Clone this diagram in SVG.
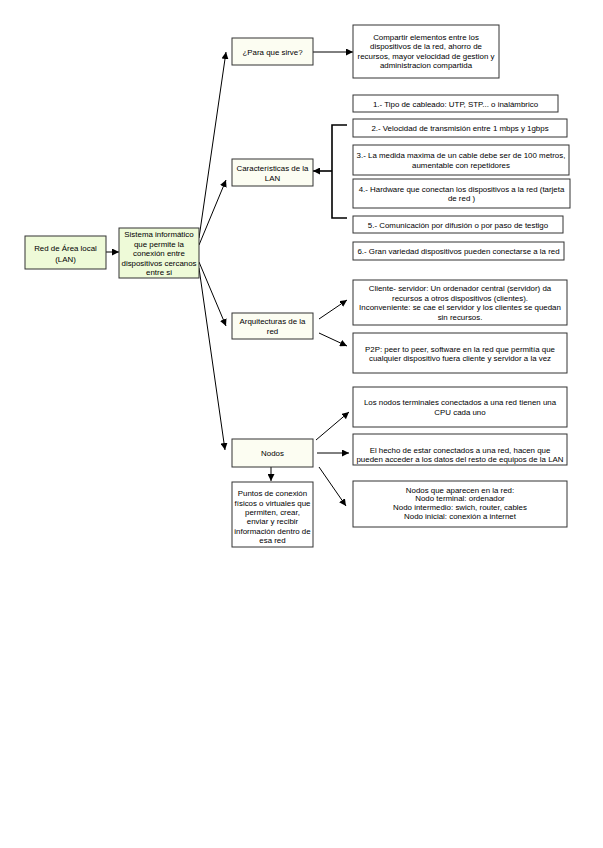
<svg xmlns="http://www.w3.org/2000/svg" width="603" height="848" viewBox="0 0 603 848">
<style>
text{font-family:"Liberation Sans",Arial,sans-serif;font-size:7.9px;fill:#000;text-anchor:middle}
.g{fill:#eefad8;stroke:#333;stroke-width:1}
.p{fill:#fcfdf2;stroke:#333;stroke-width:1}
.w{fill:#fff;stroke:#333;stroke-width:1}
.c{stroke:#000;stroke-width:1;fill:none}
</style>
<defs>
<marker id="a" viewBox="0 0 10 10" refX="10" refY="5" markerWidth="7" markerHeight="7" orient="auto" markerUnits="userSpaceOnUse">
<path d="M0,0 L10,5 L0,10 z" fill="#000"/>
</marker>
</defs>
<rect width="603" height="848" fill="#fff"/>
<g id="connectors">
<line class="c" x1="106" y1="252" x2="119" y2="252" marker-end="url(#a)"/>
<line class="c" x1="199" y1="238" x2="226" y2="52" marker-end="url(#a)"/>
<line class="c" x1="199" y1="245" x2="226" y2="180" marker-end="url(#a)"/>
<line class="c" x1="199" y1="262" x2="226" y2="326" marker-end="url(#a)"/>
<line class="c" x1="199" y1="268" x2="225" y2="450" marker-end="url(#a)"/>
<line class="c" x1="313" y1="52" x2="353" y2="52" marker-end="url(#a)"/>
<path d="M347,125 H332 V218 H347" fill="none" stroke="#000" stroke-width="1.6"/>
<line x1="332" y1="171" x2="313" y2="171" stroke="#000" stroke-width="1.6" marker-end="url(#a)"/>
<line class="c" x1="319" y1="319" x2="347" y2="300" marker-end="url(#a)"/>
<line class="c" x1="319" y1="333" x2="347" y2="346" marker-end="url(#a)"/>
<line class="c" x1="316" y1="440" x2="349" y2="412" marker-end="url(#a)"/>
<line class="c" x1="317" y1="453" x2="349" y2="453" marker-end="url(#a)"/>
<line class="c" x1="319" y1="467" x2="346" y2="506" marker-end="url(#a)"/>
<line class="c" x1="271" y1="467" x2="271" y2="481" marker-end="url(#a)"/>
</g>
<g id="red">
<rect class="g" x="25" y="236" width="81" height="33"/>
<text x="65.5" y="251.3">Red de Área local</text>
<text x="65.5" y="262">(LAN)</text>
</g>
<g id="sistema">
<rect class="g" x="119" y="228" width="80" height="50"/>
<text x="159" y="237">Sistema informático</text>
<text x="159" y="246.5">que permite la</text>
<text x="159" y="256">conexión entre</text>
<text x="159" y="265.5">dispositivos cercanos</text>
<text x="159" y="275">entre si</text>
</g>
<g id="para">
<rect class="p" x="232" y="38" width="81" height="27"/>
<text x="272.5" y="54.5">¿Para que sirve?</text>
</g>
<g id="compartir">
<rect class="w" x="353" y="25" width="146" height="53"/>
<text x="426" y="39.7">Compartir elementos entre los</text>
<text x="426" y="49">dispositivos de la red, ahorro de</text>
<text x="426" y="58.7">recursos, mayor velocidad de gestion y</text>
<text x="426" y="68">administracion compartida</text>
</g>
<g id="caracteristicas">
<rect class="p" x="232" y="159" width="81" height="27"/>
<text x="272.5" y="170.7">Características de la</text>
<text x="272.5" y="180.7">LAN</text>
</g>
<g id="c1">
<rect class="w" x="353" y="95" width="205" height="17"/>
<text x="455.5" y="106.5">1.- Tipo de cableado: UTP, STP... o inalámbrico</text>
</g>
<g id="c2">
<rect class="w" x="353" y="119" width="214" height="18"/>
<text x="460" y="131">2.- Velocidad de transmisión entre 1 mbps y 1gbps</text>
</g>
<g id="c3">
<rect class="w" x="353" y="145" width="216" height="30"/>
<text x="461" y="158">3.- La medida maxima de un cable debe ser de 100 metros,</text>
<text x="461" y="168">aumentable con repetidores</text>
</g>
<g id="c4">
<rect class="w" x="353" y="179" width="217" height="29"/>
<text x="461.5" y="192">4.- Hardware que conectan los dispositivos a la red (tarjeta</text>
<text x="461.5" y="201">de red )</text>
</g>
<g id="c5">
<rect class="w" x="353" y="216" width="210" height="17"/>
<text x="458" y="227.5">5.- Comunicación por difusión o  por paso de testigo</text>
</g>
<g id="c6">
<rect class="w" x="353" y="242" width="211" height="18"/>
<text x="458.5" y="254">6.- Gran variedad dispositivos pueden conectarse a la red</text>
</g>
<g id="arquitecturas">
<rect class="p" x="232" y="313" width="81" height="26"/>
<text x="272.5" y="324">Arquitecturas de la</text>
<text x="272.5" y="334">red</text>
</g>
<g id="cliente">
<rect class="w" x="353" y="280" width="214" height="45"/>
<text x="460" y="291.3">Cliente- servidor: Un ordenador central (servidor) da</text>
<text x="460" y="300.5">recursos a otros dispositivos (clientes).</text>
<text x="460" y="309.7">Inconveniente: se cae el servidor y los clientes se quedan</text>
<text x="460" y="319.5">sin recursos.</text>
</g>
<g id="p2p">
<rect class="w" x="353" y="333" width="214" height="40"/>
<text x="460" y="352">P2P: peer to peer, software en la red que permitía que</text>
<text x="460" y="361.3">cualquier dispositivo fuera cliente y servidor a la vez</text>
</g>
<g id="nodos">
<rect class="p" x="232" y="439" width="81" height="28"/>
<text x="272.5" y="456.3">Nodos</text>
</g>
<g id="puntos">
<rect class="w" x="232" y="482" width="81" height="65"/>
<text x="272.5" y="496.3">Puntos de conexión</text>
<text x="272.5" y="505.7">físicos o virtuales que</text>
<text x="272.5" y="515">permiten, crear,</text>
<text x="272.5" y="524">enviar y recibir</text>
<text x="272.5" y="533.7">información dentro de</text>
<text x="272.5" y="543">esa red</text>
</g>
<g id="n1">
<rect class="w" x="353" y="387" width="214" height="40"/>
<text x="460" y="405.3">Los nodos terminales conectados a una red tienen una</text>
<text x="460" y="415.3">CPU cada uno</text>
</g>
<g id="n2">
<rect class="w" x="353" y="434" width="214" height="31"/>
<text x="460" y="453">El hecho de estar conectados a una red, hacen que</text>
<text x="460" y="462.3">pueden acceder a los datos del resto de equipos de la LAN</text>
</g>
<g id="n3">
<rect class="w" x="353" y="481" width="214" height="46"/>
<text x="460" y="493">Nodos que aparecen en la red:</text>
<text x="460" y="501.3">Nodo terminal: ordenador</text>
<text x="460" y="509.7">Nodo intermedio: swich, router, cables</text>
<text x="460" y="518.7">Nodo inicial: conexión a internet</text>
</g>
</svg>
